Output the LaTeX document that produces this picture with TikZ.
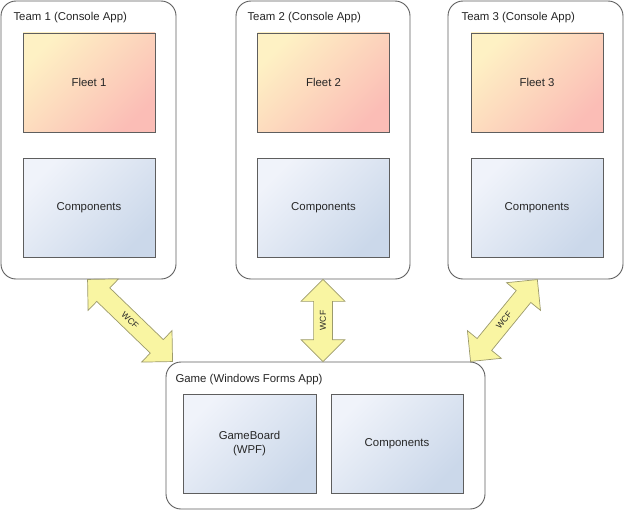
\documentclass[tikz,border=0pt]{standalone}
\usepackage{fontspec}
\setmainfont{Liberation Sans}
\usetikzlibrary{calc, shapes.arrows}
\definecolor{lcol}{HTML}{5E5E5E}
\definecolor{tcol}{HTML}{262626}
\definecolor{fleetA}{HTML}{FEF1C4}
\definecolor{fleetB}{HTML}{FDE2B8}
\definecolor{fleetC}{HTML}{FBBDB6}
\definecolor{compA}{HTML}{F0F3FA}
\definecolor{compB}{HTML}{CBD8EA}
\definecolor{wcffill}{HTML}{F9F5A2}
\definecolor{wcfline}{HTML}{9C9A6C}

\begin{document}
\begin{tikzpicture}[x=1pt,y=-1pt,
  appbox/.style={draw=lcol,line width=0.9pt,rounded corners=15pt,fill=white,inner sep=0pt},
  apptitle/.style={anchor=west,text=tcol,font=\fontsize{11.4}{13}\selectfont},
  fleetbox/.style={draw=lcol,line width=0.8pt,minimum width=132pt,minimum height=99pt,
    top color=fleetA,middle color=fleetB,bottom color=fleetC,shading angle=45,
    text=tcol,font=\fontsize{11.4}{13}\selectfont},
  compbox/.style={draw=lcol,line width=0.8pt,minimum width=132pt,minimum height=99pt,
    top color=compA,bottom color=compB,shading angle=45,align=center,
    text=tcol,font=\fontsize{11.4}{13.5}\selectfont},
  wcf/.style={double arrow,draw=wcfline,fill=wcffill,line width=0.7pt,sloped,
    double arrow head extend=12.5pt,inner xsep=0pt,inner ysep=6pt,
    text=tcol,font=\fontsize{8.6}{9}\selectfont}]
\useasboundingbox (0,0) rectangle (636,519);
\node[appbox,minimum width=175pt,minimum height=278pt] (team1) at (88.5,140) {};
\node[appbox,minimum width=174pt,minimum height=278pt] (team2) at (323,140) {};
\node[appbox,minimum width=175pt,minimum height=278pt] (team3) at (535.5,140) {};
\node[appbox,minimum width=319pt,minimum height=147pt] (game) at (325.5,435.5) {};
\node[apptitle] (title1) at (10,18) {Team 1 (Console App)};
\node[apptitle] (title2) at (244,18) {Team 2 (Console App)};
\node[apptitle] (title3) at (458,18) {Team 3 (Console App)};
\node[apptitle] (title4) at (172,380) {Game (Windows Forms App)};
\node[fleetbox] (fleet1) at (89,82.5) {Fleet 1};
\node[fleetbox] (fleet2) at (323.5,82.5) {Fleet 2};
\node[fleetbox] (fleet3) at (537,82.5) {Fleet 3};
\node[compbox] (comp1) at (89,207.5) {Components};
\node[compbox] (comp2) at (323.5,207.5) {Components};
\node[compbox] (comp3) at (537,207.5) {Components};
\node[compbox,minimum width=133pt] (board) at (249.5,443.5) {GameBoard\\(WPF)};
\node[compbox] (comp4) at (397,443.5) {Components};
\coordinate (t1) at ([xshift=87pt]team1.south west);
\coordinate (g1) at ([xshift=7pt]game.north west);
\coordinate (t2) at (team2.south);
\coordinate (g2) at (team2.south |- game.north);
\coordinate (t3) at ([xshift=-86pt]team3.south east);
\coordinate (g3) at ([xshift=-15pt]game.north east);
\path let \p1=($(g1)-(t1)$), \n1={veclen(\x1,\y1)} in
  (t1) -- node[wcf,minimum height=\n1] (wcf1) {WCF} (g1);
\path let \p1=($(t2)-(g2)$), \n1={veclen(\x1,\y1)} in
  (g2) -- node[wcf,minimum height=\n1] (wcf2) {WCF} (t2);
\path let \p1=($(t3)-(g3)$), \n1={veclen(\x1,\y1)} in
  (g3) -- node[wcf,minimum height=\n1] (wcf3) {WCF} (t3);
\end{tikzpicture}
\end{document}
